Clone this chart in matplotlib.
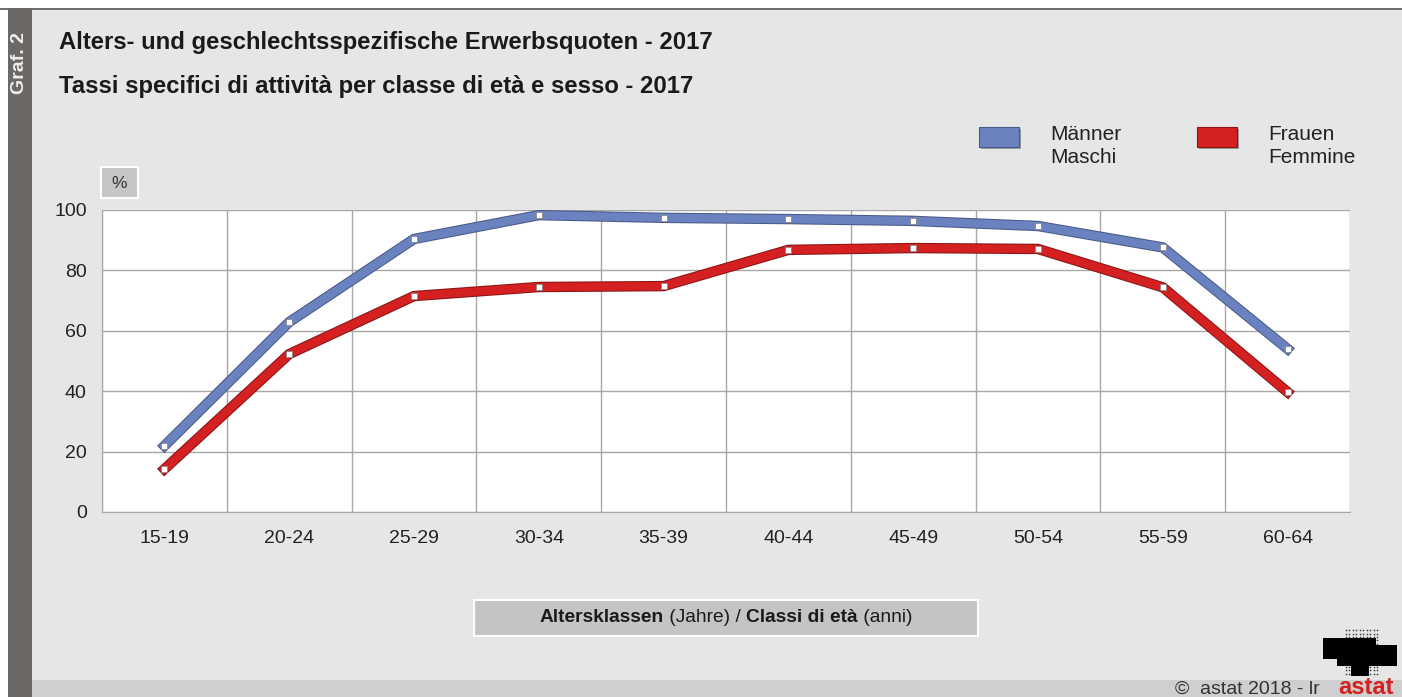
import numpy as np
import matplotlib
matplotlib.use("Agg")
import matplotlib.pyplot as plt
import matplotlib.patheffects as pe
from matplotlib.patches import Rectangle

plt.rcParams['font.family'] = ['Liberation Sans', 'DejaVu Sans']

# Daten
klassen = ["15-19", "20-24", "25-29", "30-34", "35-39",
           "40-44", "45-49", "50-54", "55-59", "60-64"]
maenner = [21.9, 62.9, 90.4, 98.3, 97.4, 97.0, 96.4, 94.7, 87.6, 54.0]
frauen = [14.2, 52.3, 71.5, 74.5, 74.8, 86.8, 87.4, 87.1, 74.4, 39.7]
y_ticks = [0, 20, 40, 60, 80, 100]

W, H = 1402, 697
fig = plt.figure(figsize=(W / 100, H / 100), dpi=100)
fig.patch.set_facecolor("#e6e6e6")

def px(x0, y0, w, h):
    # pixel box (top-left origin) -> figure fraction
    return (x0 / W, 1 - (y0 + h) / H, w / W, h / H)

# Rahmen / Hintergrund
fig.patches.append(Rectangle((0, 0), 8 / W, 1, transform=fig.transFigure,
                             facecolor="white", edgecolor="none", zorder=0))
fig.patches.append(Rectangle((0, 1 - 8 / H), 1, 8 / H, transform=fig.transFigure,
                             facecolor="white", edgecolor="none", zorder=0))
fig.patches.append(Rectangle((0, 1 - 10 / H), 1, 2 / H, transform=fig.transFigure,
                             facecolor="#707070", edgecolor="none", zorder=1))
fig.patches.append(Rectangle((8 / W, 0), 24 / W, 1 - 8 / H, transform=fig.transFigure,
                             facecolor="#6b6866", edgecolor="none", zorder=1))
fig.patches.append(Rectangle((32 / W, 0), 1, 17 / H, transform=fig.transFigure,
                             facecolor="#cfcfcf", edgecolor="none", zorder=1))

fig.text(20 / W, 1 - 63 / H, "Graf. 2", rotation=90, color="#eeeeee",
         fontsize=14, fontweight="bold", ha="center", va="center")

fig.text(59 / W, 1 - 43 / H, "Alters- und geschlechtsspezifische Erwerbsquoten - 2017",
         fontsize=17.2, fontweight="bold", color="#1a1a1a", va="center")
fig.text(59 / W, 1 - 87 / H, "Tassi specifici di attività per classe di età e sesso - 2017",
         fontsize=17.2, fontweight="bold", color="#1a1a1a", va="center")

# Diagramm
ax = fig.add_axes([102 / W, 1 - 512 / H, (1350 - 102) / W, (512 - 210) / H])
ax.set_facecolor("white")
x = np.arange(len(klassen))

for werte, farbe, kante in [(maenner, "#6a82c0", "#4a5a88"),
                            (frauen, "#d42020", "#8a1515")]:
    ax.plot(x, werte, color=farbe, lw=6, solid_joinstyle="miter", zorder=3,
            path_effects=[pe.Stroke(linewidth=7.5, foreground=kante), pe.Normal()])
    ax.plot(x, werte, ls="none", marker="s", ms=4.5, mfc="white",
            mec="#888888", mew=0.6, zorder=4)

ax.set_xlim(-0.5, len(klassen) - 0.5)
ax.set_ylim(0, 100)
ax.set_yticks(y_ticks)
ax.set_xticks(x)
ax.set_xticklabels(klassen)
ax.set_xticks(np.arange(len(klassen) + 1) - 0.5, minor=True)
ax.grid(False)
ax.grid(True, which="minor", axis="x", color="#a8a8a8", lw=1)
ax.grid(True, which="major", axis="y", color="#a8a8a8", lw=1)
ax.set_axisbelow(True)
ax.tick_params(which="both", length=0, labelsize=14, colors="#222222", pad=13)
ax.tick_params(axis="y", pad=11)
for s in ax.spines.values():
    s.set_color("#a8a8a8")
ax.spines["top"].set_visible(False)
ax.spines["right"].set_visible(False)

# "%" Box
fig.patches.append(Rectangle(px(101, 167, 37, 31)[:2], 37 / W, 31 / H,
                             transform=fig.transFigure, facecolor="#c6c6c6",
                             edgecolor="white", lw=1.5, zorder=2))
fig.text(119.5 / W, 1 - 183 / H, "%", fontsize=12.5, ha="center", va="center", color="#333333")

# Legende
for (lx, farbe, kante, txt) in [(979, "#6a82c0", "#4a5a88", "Männer\nMaschi"),
                                (1197, "#d42020", "#8a1515", "Frauen\nFemmine")]:
    fig.patches.append(Rectangle(px(lx + 2, 129, 40, 20)[:2], 40 / W, 20 / H,
                                 transform=fig.transFigure, facecolor="#9a9a9a",
                                 edgecolor="none", zorder=2))
    fig.patches.append(Rectangle(px(lx, 127, 40, 20)[:2], 40 / W, 20 / H,
                                 transform=fig.transFigure, facecolor=farbe,
                                 edgecolor=kante, lw=0.8, zorder=3))
    fig.text((lx + 71) / W, 1 - 146 / H, txt, fontsize=15, va="center", ha="left",
             color="#222222", linespacing=1.22)

# Achsentitel-Box
fig.patches.append(Rectangle(px(474, 600, 504, 36)[:2], 504 / W, 36 / H,
                             transform=fig.transFigure, facecolor="#c4c4c4",
                             edgecolor="white", lw=1.5, zorder=2))
teile = [("Altersklassen", "bold"), (" (Jahre) / ", "normal"),
         ("Classi di età", "bold"), (" (anni)", "normal")]
r = fig.canvas.get_renderer()
objs = []
for t, fw in teile:
    objs.append(fig.text(0, 1 - 618 / H, t, fontsize=13.8, fontweight=fw,
                         color="#1a1a1a", va="center", ha="left", zorder=5))
breiten = [o.get_window_extent(r).width for o in objs]
start = 726 - sum(breiten) / 2
for o, b in zip(objs, breiten):
    o.set_x(start / W)
    start += b

# Fusszeile
fig.text(1175 / W, 1 - 689 / H, "©  astat 2018 - lr", fontsize=14, color="#333333",
         va="center", ha="left")
fig.text(1366 / W, 1 - 688 / H, "astat", fontsize=17, fontweight="bold",
         color="#d42020", va="center", ha="center")

# Logo (Punktraster)
lax = fig.add_axes([1318 / W, 1 - 677 / H, 80 / W, 50 / H])
lax.axis("off")
gx, gy = np.meshgrid(np.arange(0, 22), np.arange(0, 14))
gx = gx.ravel(); gy = gy.ravel()
innen = ((gy >= 3) & (gy <= 10) & (gx >= 1 + (gy < 5) * 4) & (gx <= 21 - (gy > 8) * 6)) | \
        ((gx >= 9) & (gx <= 13) & (gy <= 3))
lax.scatter(gx[innen], gy[innen], s=5, c="black", marker="s", lw=0)
rest = ~innen & (gx > 6) & (gx < 17)
lax.scatter(gx[rest], gy[rest], s=1.5, c="#444444", lw=0)
lax.set_xlim(-1, 22)
lax.set_ylim(-1, 14)

fig.savefig("out.png", dpi=100, facecolor=fig.get_facecolor())
